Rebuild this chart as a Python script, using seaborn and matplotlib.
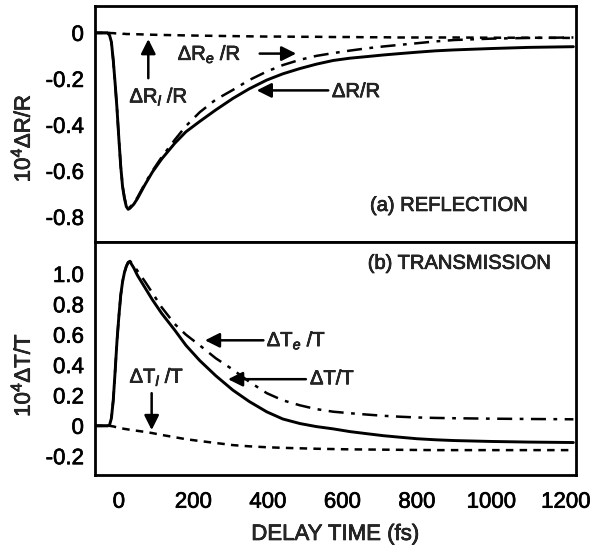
import numpy as np
import pandas as pd
import matplotlib
matplotlib.use('Agg')
import matplotlib.pyplot as plt
import matplotlib.patheffects as pe
import seaborn as sns

# delay times (fs), shared by all traces
t_fs = [-64, -40, -30, -25, -20, -15, -10, -5, 0, 5, 10, 15, 20, 25, 30, 40, 50, 70, 90,
        115, 150, 180, 217, 260, 306, 350, 397, 440, 486, 530, 575, 620, 666, 710, 754,
        800, 850, 900, 1000, 1100, 1220]

# (a) reflection, 10^4 dR/R
dR_total = [0, 0, 0, -0.01, -0.04, -0.12, -0.22, -0.33, -0.46, -0.58, -0.67, -0.72,
            -0.755, -0.767, -0.762, -0.745, -0.72, -0.66, -0.605, -0.548, -0.48, -0.43,
            -0.385, -0.335, -0.285, -0.243, -0.205, -0.178, -0.155, -0.136, -0.12, -0.11,
            -0.103, -0.096, -0.09, -0.084, -0.078, -0.074, -0.068, -0.063, -0.06]
dR_e = [0, 0, 0, -0.01, -0.04, -0.12, -0.22, -0.33, -0.46, -0.58, -0.665, -0.715,
        -0.75, -0.762, -0.757, -0.74, -0.715, -0.655, -0.6, -0.54, -0.465, -0.405,
        -0.345, -0.29, -0.248, -0.205, -0.168, -0.14, -0.117, -0.1, -0.088, -0.077,
        -0.067, -0.059, -0.052, -0.045, -0.037, -0.031, -0.025, -0.022, -0.02]
dR_l = [0, 0, 0, 0, -0.001, -0.001, -0.002, -0.002, -0.003, -0.003, -0.004, -0.004,
        -0.005, -0.005, -0.005, -0.006, -0.006, -0.007, -0.008, -0.009, -0.01, -0.011,
        -0.012, -0.013, -0.014, -0.015, -0.016, -0.016, -0.017, -0.017, -0.018, -0.018,
        -0.019, -0.019, -0.02, -0.02, -0.02, -0.02, -0.021, -0.021, -0.022]

# (b) transmission, 10^4 dT/T
dT_total = [0, 0, 0, 0.005, 0.05, 0.17, 0.36, 0.56, 0.72, 0.86, 0.95, 1.01, 1.05, 1.075,
            1.08, 1.04, 0.99, 0.91, 0.83, 0.74, 0.63, 0.53, 0.43, 0.33, 0.235, 0.16, 0.092,
            0.045, 0.015, -0.005, -0.02, -0.038, -0.052, -0.065, -0.075, -0.085, -0.092,
            -0.097, -0.103, -0.107, -0.11]
dT_e = [0, 0, 0, 0.005, 0.05, 0.17, 0.36, 0.56, 0.72, 0.86, 0.95, 1.01, 1.05, 1.078,
        1.085, 1.055, 1.02, 0.95, 0.875, 0.78, 0.67, 0.60, 0.53, 0.445, 0.37, 0.29, 0.215,
        0.168, 0.135, 0.11, 0.093, 0.083, 0.074, 0.066, 0.06, 0.055, 0.052, 0.05, 0.047,
        0.045, 0.043]
dT_l = [0, 0, 0, 0, -0.002, -0.004, -0.007, -0.01, -0.013, -0.016, -0.018, -0.02, -0.022,
        -0.024, -0.026, -0.03, -0.033, -0.04, -0.048, -0.06, -0.075, -0.088, -0.1, -0.113,
        -0.127, -0.135, -0.141, -0.145, -0.148, -0.151, -0.153, -0.155, -0.156, -0.157,
        -0.158, -0.159, -0.16, -0.16, -0.16, -0.16, -0.16]

x_ticks = [0, 200, 400, 600, 800, 1000, 1200]
x_ticklabels = ['0', '200', '400', '600', '800', '1000', '1200']
r_ticks = [0, -0.2, -0.4, -0.6, -0.8]
r_ticklabels = ['0', '-0.2', '-0.4', '-0.6', '-0.8']
t_ticks = [-0.2, 0, 0.2, 0.4, 0.6, 0.8, 1.0]
t_ticklabels = ['-0.2', '0', '0.2', '0.4', '0.6', '0.8', '1.0']

sns.set_style('white')
plt.rcParams['font.family'] = ['Liberation Sans', 'DejaVu Sans']
plt.rcParams.update({'mathtext.fontset': 'custom',
                     'mathtext.rm': 'Liberation Sans',
                     'mathtext.it': 'Liberation Sans:italic',
                     'axes.unicode_minus': False,
                     'xtick.direction': 'in',
                     'ytick.direction': 'in'})

fig = plt.figure(figsize=(5.98, 5.53), dpi=100)
ax1 = fig.add_axes([0.1589, 0.5624, 0.8043, 0.4268])
ax2 = fig.add_axes([0.1589, 0.1410, 0.8043, 0.4213])

solid = '-'
dashdot = (0, (6, 3, 1.5, 3))
dashed = (0, (3, 2.5))

sns.lineplot(x=t_fs, y=dR_total, ax=ax1, color='k', lw=2.1, linestyle=solid)
sns.lineplot(x=t_fs, y=dR_e, ax=ax1, color='k', lw=1.8, linestyle=dashdot)
sns.lineplot(x=t_fs, y=dR_l, ax=ax1, color='k', lw=1.8, linestyle=dashed)

sns.lineplot(x=t_fs, y=dT_total, ax=ax2, color='k', lw=2.1, linestyle=solid)
sns.lineplot(x=t_fs, y=dT_e, ax=ax2, color='k', lw=1.8, linestyle=dashdot)
sns.lineplot(x=t_fs, y=dT_l, ax=ax2, color='k', lw=1.8, linestyle=dashed)

for ax in (ax1, ax2):
    ax.set_xlim(-64, 1227)
    ax.set_xticks(x_ticks)
    for s in ax.spines.values():
        s.set_linewidth(2)
        s.set_color('k')
    ax.tick_params(length=7, width=1.5, labelsize=16, colors='k')
    ax.tick_params(axis='y', pad=8)
    ax.tick_params(axis='x', pad=12)

ax1.set_ylim(-0.909, 0.117)
ax1.set_yticks(r_ticks)
ax1.set_yticklabels(r_ticklabels)
ax1.set_xticklabels([])
ax1.set_ylabel('10$^4$ΔR/R', fontsize=16)
ax1.yaxis.set_label_coords(-0.125, 0.44)

ax2.set_ylim(-0.324, 1.21)
ax2.set_yticks(t_ticks)
ax2.set_yticklabels(t_ticklabels)
ax2.set_xticklabels(x_ticklabels)
ax2.set_ylabel('10$^4$ΔT/T', fontsize=16)
ax2.yaxis.set_label_coords(-0.125, 0.43)
ax2.set_xlabel('DELAY TIME (fs)', fontsize=16)
ax2.xaxis.set_label_coords(0.5, -0.21)

fs = 14.5
arrow = dict(arrowstyle='-|>', color='k', lw=1.8, mutation_scale=22, shrinkA=0, shrinkB=0)

# reflection labels
ax1.text(158, -0.092, 'ΔR$_e$ /R', fontsize=fs, ha='left', va='center')
ax1.annotate('', xy=(476, -0.09), xytext=(378, -0.09), arrowprops=arrow)
ax1.text(107, -0.277, 'ΔR$_l$ /R', fontsize=fs, ha='center', va='center')
ax1.annotate('', xy=(79, -0.027), xytext=(79, -0.197), arrowprops=arrow)
ax1.text(572, -0.255, 'ΔR/R', fontsize=fs, ha='left', va='center')
ax1.annotate('', xy=(370, -0.25), xytext=(562, -0.25), arrowprops=arrow)
ax1.text(674, -0.75, '(a) REFLECTION', fontsize=fs, ha='left', va='center')

# transmission labels
ax2.text(668, 1.07, '(b) TRANSMISSION', fontsize=fs, ha='left', va='center')
ax2.text(397, 0.563, 'ΔT$_e$ /T', fontsize=fs, ha='left', va='center')
ax2.annotate('', xy=(231, 0.563), xytext=(388, 0.563), arrowprops=arrow)
ax2.text(513, 0.31, 'ΔT/T', fontsize=fs, ha='left', va='center')
ax2.annotate('', xy=(293, 0.307), xytext=(502, 0.307), arrowprops=arrow)
ax2.text(102, 0.322, 'ΔT$_l$ /T', fontsize=fs, ha='center', va='center')
ax2.annotate('', xy=(88, -0.028), xytext=(88, 0.215), arrowprops=arrow)

# scanned original has heavy type
for t in fig.findobj(matplotlib.text.Text):
    t.set_path_effects([pe.withStroke(linewidth=0.5, foreground='k')])

fig.savefig('out.png', dpi=100)
